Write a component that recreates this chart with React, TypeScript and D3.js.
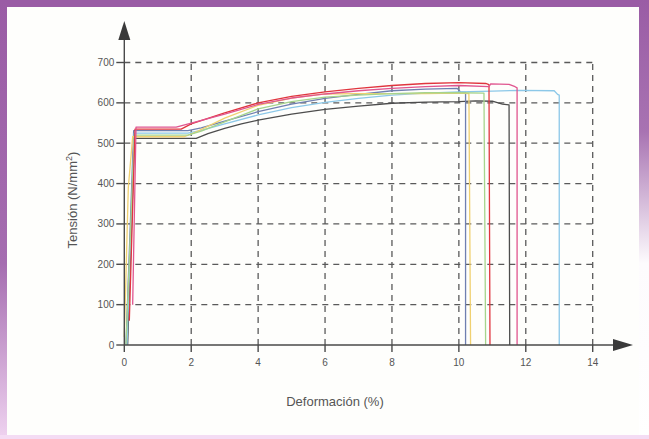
import React from "react";
import * as d3 from "d3";

const W = 649;
const H = 439;

const yTicks = [0, 100, 200, 300, 400, 500, 600, 700];
const xTicks = [0, 2, 4, 6, 8, 10, 12, 14];

const darkGray: [number, number][] = [[0.1, 0], [0.3, 512], [2.15, 512], [2.5, 524], [3, 537], [3.5, 548], [4, 557], [5, 572], [6, 584], [7, 592], [8, 599], [9, 602], [10, 603], [10.5, 605], [11, 604], [11.3, 597], [11.5, 595], [11.52, 0]];
const slateBlue: [number, number][] = [[0.05, 0], [0.28, 531], [1.9, 531], [2.3, 538], [3, 555], [4, 578], [5, 597], [6, 611], [7, 621], [8, 630], [9, 634], [9.95, 636], [10.05, 627], [10.2, 626], [10.2, 0]];
const lightBlue: [number, number][] = [[0.08, 0], [0.3, 525], [1.9, 525], [2.3, 532], [3, 548], [4, 570], [5, 588], [6, 601], [7, 611], [8, 619], [9, 624], [10, 627], [11, 629], [11.8, 631], [12.85, 630], [12.95, 621], [13.0, 619], [13.0, 0]];
const yellow: [number, number][] = [[0.0, 20], [0.12, 390], [0.25, 516], [1.8, 516], [2.2, 530], [3, 562], [4, 594], [5, 612], [6, 622], [7, 623], [8, 623], [9, 623], [10, 624], [10.3, 623], [10.35, 0]];
const green: [number, number][] = [[0.05, 0], [0.3, 520], [1.9, 520], [2.3, 530], [3, 553], [4, 585], [5, 603], [6, 614], [7, 619], [8, 623], [9, 625], [10, 625], [10.75, 624], [10.8, 0]];
const red: [number, number][] = [[0.15, 60], [0.32, 535], [1.7, 535], [2, 548], [3, 575], [4, 600], [5, 616], [6, 627], [7, 636], [8, 643], [9, 648], [10, 650], [10.8, 648], [10.9, 645], [10.93, 0]];
const magenta: [number, number][] = [[0.25, 100], [0.35, 540], [1.55, 540], [2, 550], [3, 572], [4, 596], [5, 612], [6, 622], [7, 630], [8, 636], [9, 640], [10, 643], [10.9, 640], [10.95, 647], [11.5, 646], [11.68, 640], [11.74, 637], [11.74, 0]];

const seriesList = [
  { name: "gris", data: darkGray, color: "#4d4d4d" },
  { name: "azul", data: slateBlue, color: "#6f7fb0" },
  { name: "celeste", data: lightBlue, color: "#8cc8e8" },
  { name: "amarillo", data: yellow, color: "#f0d070" },
  { name: "verde", data: green, color: "#a6d48c" },
  { name: "rojo", data: red, color: "#e0353e" },
  { name: "magenta", data: magenta, color: "#e0558f" },
];

export default function App() {
  const x = d3.scaleLinear().domain([0, 14]).range([124.3, 592.7]);
  const y = d3.scaleLinear().domain([0, 700]).range([345, 62.5]);
  const line = d3
    .line<[number, number]>()
    .x((d) => x(d[0]))
    .y((d) => y(d[1]));

  const axisColor = "#4a4a4a";
  const gridColor = "#5a5a5a";
  const textColor = "#555";
  const font = "Liberation Sans, Arial, sans-serif";

  return (
    <svg
      width={W}
      height={H}
      style={{ position: "absolute", left: 0, top: 0 }}
      xmlns="http://www.w3.org/2000/svg"
    >
      <defs>
        <linearGradient id="leftG" x1="0" y1="0" x2="0" y2="1">
          <stop offset="0" stopColor="#9a5ca5" />
          <stop offset="0.6" stopColor="#a56db0" />
          <stop offset="1" stopColor="#efd3f0" />
        </linearGradient>
        <linearGradient id="rightG" x1="0" y1="0" x2="0" y2="1">
          <stop offset="0" stopColor="#9a5ca5" />
          <stop offset="0.3" stopColor="#a873b2" />
          <stop offset="0.6" stopColor="#fdfbfd" />
          <stop offset="1" stopColor="#ffffff" />
        </linearGradient>
      </defs>
      <rect x={0} y={0} width={W} height={H} fill="#fefefc" />
      <rect x={0} y={0} width={W} height={7} fill="#9a5ca5" />
      <rect x={0} y={0} width={7} height={H} fill="url(#leftG)" />
      <rect x={639} y={0} width={10} height={H} fill="url(#rightG)" />
      <rect x={0} y={435} width={W} height={4} fill="#f4dcf4" />

      {/* grid */}
      <g stroke={gridColor} strokeWidth={1.3} strokeDasharray="6,5" fill="none">
        {yTicks.filter((t) => t > 0).map((t) => (
          <line key={"gy" + t} x1={x(0)} x2={x(14)} y1={y(t)} y2={y(t)} />
        ))}
        {xTicks.filter((t) => t > 0).map((t) => (
          <line key={"gx" + t} x1={x(t)} x2={x(t)} y1={y(0)} y2={y(700)} />
        ))}
      </g>

      {/* curves */}
      <g fill="none" strokeWidth={1.3} strokeLinejoin="round">
        {seriesList.map((s) => (
          <path key={s.name} d={line(s.data) || ""} stroke={s.color} />
        ))}
      </g>

      {/* axes */}
      <g stroke={axisColor} strokeWidth={1.4}>
        <line x1={x(0)} x2={x(0)} y1={y(0)} y2={36} />
        <line x1={x(0)} x2={618} y1={y(0)} y2={y(0)} />
        {yTicks.map((t) => (
          <line key={"ty" + t} x1={x(0) - 8} x2={x(0)} y1={y(t)} y2={y(t)} />
        ))}
        {xTicks.map((t) => (
          <line key={"tx" + t} x1={x(t)} x2={x(t)} y1={y(0)} y2={y(0) + 7} />
        ))}
      </g>
      <path d={`M${x(0)},21 L${x(0) - 6},40 L${x(0) + 6},40 Z`} fill="#3a3a3a" />
      <path d={`M633,${y(0)} L613,${y(0) - 6} L613,${y(0) + 6} Z`} fill="#3a3a3a" />

      {/* tick labels */}
      <g fill={textColor} fontFamily={font} fontSize={10} textAnchor="end">
        {yTicks.map((t) => (
          <text key={"ly" + t} x={x(0) - 10} y={y(t) + 3.5}>
            {t}
          </text>
        ))}
      </g>
      <g fill={textColor} fontFamily={font} fontSize={10} textAnchor="middle">
        {xTicks.map((t) => (
          <text key={"lx" + t} x={x(t)} y={366}>
            {t}
          </text>
        ))}
      </g>

      {/* axis titles */}
      <text
        x={335}
        y={406}
        textAnchor="middle"
        fill={textColor}
        fontFamily={font}
        fontSize={13}
      >
        Deformación (%)
      </text>
      <text
        transform="translate(77,200) rotate(-90)"
        textAnchor="middle"
        fill={textColor}
        fontFamily={font}
        fontSize={13}
      >
        Tensión (N/mm
        <tspan dy={-5} fontSize={9}>2</tspan>
        <tspan dy={5}>)</tspan>
      </text>
    </svg>
  );
}
